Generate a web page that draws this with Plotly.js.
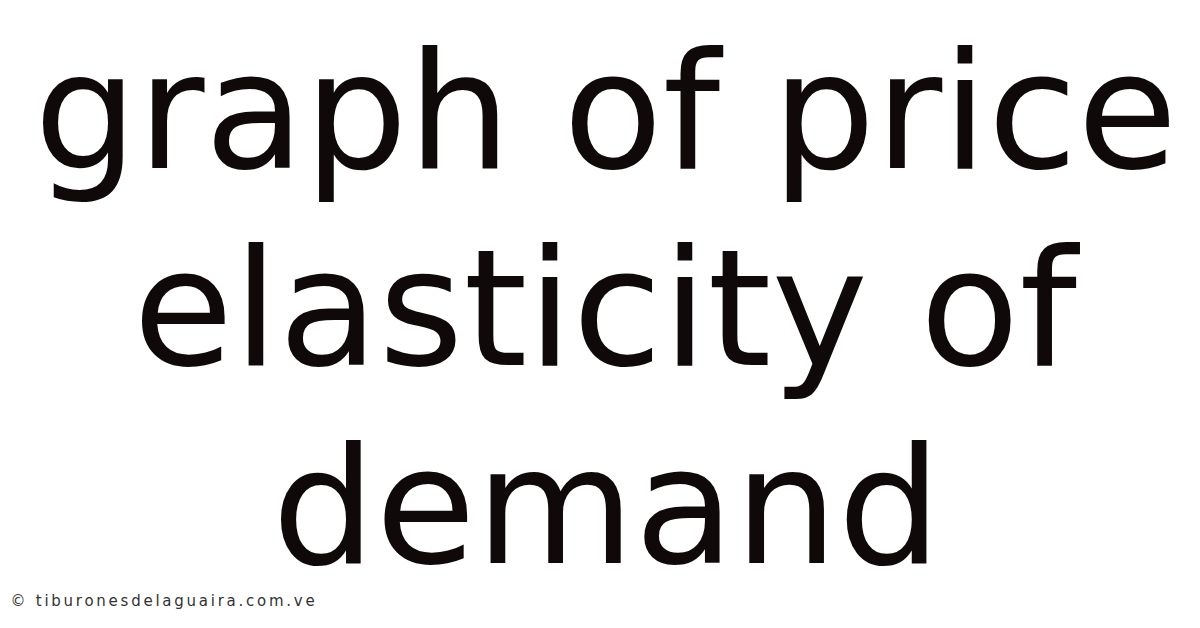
<!DOCTYPE html>
<html>
<head>
<meta charset="utf-8">
<script src="https://cdn.plot.ly/plotly-3.0.1.min.js"></script>
<style>
  html, body { margin: 0; padding: 0; background: #ffffff; }
  #chart { width: 1200px; height: 628px; }
  /* the site credit in the corner is spaced out; plotly measures it unspaced
     and centres it, so its x below is pushed right by half the extra width */
  .annotation[data-index="3"] .annotation-text { letter-spacing: 2.75px; }
</style>
</head>
<body>
<div id="chart"></div>
<script>
// the picture is only a headline card, no plotted series
var titleLines = ['graph of price', 'elasticity of', 'demand'];
var watermark = '\u00a9 tiburonesdelaguaira.com.ve';

// vertical centre of each headline line, in paper units
var lineY = [0.823, 0.508, 0.194];

var annotations = [];
for (var i = 0; i < titleLines.length; i++){
	annotations.push({
		text: titleLines[i],
		xref: 'paper', yref: 'paper',
		x: 0.505, y: lineY[i],
		xanchor: 'center', yanchor: 'middle',
		showarrow: false,
		font: {family: 'DejaVu Sans', size: 163, color: '#0f0909'}
	});
}
annotations.push({
	text: watermark,
	xref: 'paper', yref: 'paper',
	x: 0.0388, y: 0.043,
	xanchor: 'left', yanchor: 'middle',
	showarrow: false,
	font: {family: 'DejaVu Sans', size: 15, color: '#333333'}
});

var layout = {
	width: 1200,
	height: 628,
	margin: {l: 0, r: 0, t: 0, b: 0},
	paper_bgcolor: '#ffffff',
	plot_bgcolor: '#ffffff',
	xaxis: {visible: false, range: [0, 1]},
	yaxis: {visible: false, range: [0, 1]},
	showlegend: false,
	annotations: annotations
};

Plotly.newPlot('chart', [], layout, {staticPlot: true, displayModeBar: false});
</script>
</body>
</html>
